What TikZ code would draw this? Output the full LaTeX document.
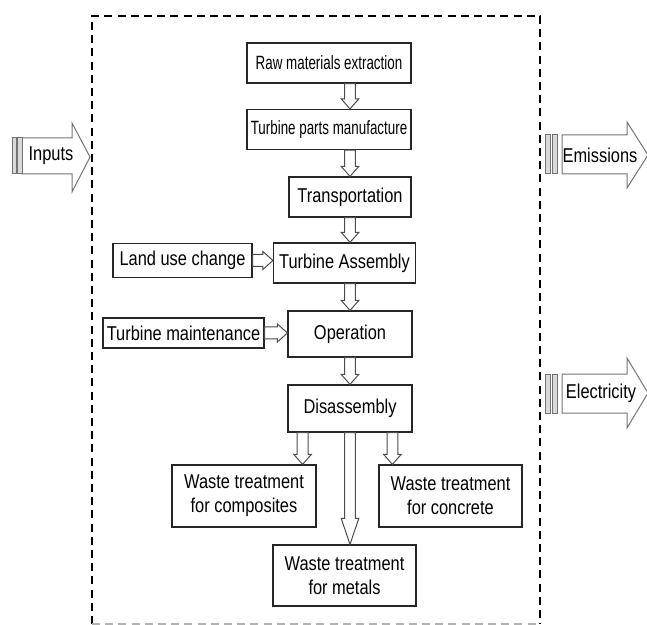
\documentclass[tikz,border=0pt]{standalone}
\usepackage{fontspec}
\usepackage{graphicx}
\setmainfont{Liberation Sans}[FakeStretch=0.82]
\usetikzlibrary{calc}
\newcommand{\squeezed}[1]{\scalebox{0.85}[1]{#1}}

\begin{document}
\begin{tikzpicture}[
			x=0.5pt, y=-0.5pt
			,every node/.append style={font=\fontsize{10}{12}\selectfont, align=center, inner sep=0pt}
			,stage/.style={draw=black!85, line width=0.6pt}
			,narrowtext/.style={font=\fontsize{9.6}{11}\selectfont}
			,frame/.style={line width=1.2pt, dash pattern=on 4pt off 2.6pt}
			,flow/.style={draw=black!70, line width=0.5pt, line join=miter}
			,vflow/.style={flow, to path={let \p1=(\tikztostart), \p2=(\tikztotarget) in
				(\x1-2.7pt,\y1) -- (\x1-2.7pt,\y2+#1) -- (\x1-4.4pt,\y2+#1) -- (\x1,\y2)
				-- (\x1+4.4pt,\y2+#1) -- (\x1+2.7pt,\y2+#1) -- (\x1+2.7pt,\y1) -- cycle}}
			,vflow/.default=5pt
			,hflow/.style={flow, to path={let \p1=(\tikztostart), \p2=(\tikztotarget) in
				(\x1,\y1+3pt) -- (\x2-5pt,\y1+3pt) -- (\x2-5pt,\y1+4.5pt) -- (\x2,\y1)
				-- (\x2-5pt,\y1-4.5pt) -- (\x2-5pt,\y1-3pt) -- (\x1,\y1-3pt) -- cycle}}
			,big/.style={draw=black!55, line width=0.5pt, line join=miter}
			,bar/.style={draw=black!55, fill=black!15, line width=0.5pt}
		]
			\useasboundingbox (0,0) rectangle (647,625);

			% system boundary
			\draw[frame] (92,624) -- (92,16) -- (540,16) -- (540,624);
			\draw[frame, black!30, line width=0.6pt] (92,624) -- (540,624);

			\coordinate (spine) at (350,0);

			\node [stage, narrowtext, minimum width=82pt, minimum height=20pt] (raw) at (329,63) {\squeezed{Raw materials extraction}};
			\node [stage, narrowtext, minimum width=82pt, minimum height=20pt] (parts) at (329,129.5) {\squeezed{Turbine parts manufacture}};
			\node [stage, minimum width=61pt, minimum height=20pt] (transport) at (350,197) {Transportation};
			\node [stage, minimum width=71pt, minimum height=20pt] (assembly) at (344.5,263) {Turbine Assembly};
			\node [stage, minimum width=69.5pt, minimum height=17pt] (landuse) at (182.5,260.5) {Land use change};
			\node [stage, minimum width=62pt, minimum height=23pt] (operation) at (350,334) {Operation};
			\node [stage, minimum width=80.5pt, minimum height=15pt] (maintenance) at (183.5,333) {Turbine maintenance};
			\node [stage, minimum width=62pt, minimum height=23.5pt] (disassembly) at (350,408.5) {Disassembly};
			\node [stage, minimum width=72pt, minimum height=31pt] (composites) at (244,496) {Waste treatment\\for composites};
			\node [stage, minimum width=71.5pt, minimum height=31pt] (concrete) at (450.5,496) {Waste treatment\\for concrete};
			\node [stage, minimum width=71.5pt, minimum height=30.5pt] (metals) at (344.5,575.5) {Waste treatment\\for metals};

			\draw[vflow] (raw.south -| spine) to (parts.north -| spine);
			\draw[vflow] (parts.south -| spine) to (transport.north -| spine);
			\draw[vflow] (transport.south -| spine) to (assembly.north -| spine);
			\draw[vflow] (assembly.south -| spine) to (operation.north -| spine);
			\draw[vflow] (operation.south -| spine) to (disassembly.north -| spine);
			\draw[hflow] (landuse.east) to (landuse.east -| assembly.west);
			\draw[hflow] (maintenance.east) to (maintenance.east -| operation.west);
			\draw[vflow] (disassembly.south -| composites.east) ++(-14,0) coordinate (c1) (c1) to (c1 |- composites.north);
			\draw[vflow] (disassembly.south -| concrete.west) ++(14,0) coordinate (c2) (c2) to (c2 |- concrete.north);
			\draw[vflow=13pt] (disassembly.south -| spine) to (metals.north -| spine);

			% inputs and outputs
			\draw[big] (22,138) -- (72,138) -- (72,123) -- (90,157) -- (72,192) -- (72,174) -- (22,174) -- cycle;
			\draw[bar] (12,138) rectangle (16.5,174) (17.5,138) rectangle (22,174);
			\node (inputs) at (51,156) {Inputs};

			\draw[big] (562,135) -- (627,135) -- (627,122) -- (648,155) -- (627,188) -- (627,174) -- (562,174) -- cycle;
			\draw[bar] (545,135) rectangle (550,174) (552,135) rectangle (557,174);
			\node (emissions) at (600,155) {Emissions};

			\draw[big] (562,374) -- (627,374) -- (627,358) -- (648,393) -- (627,428) -- (627,413) -- (562,413) -- cycle;
			\draw[bar] (545,374) rectangle (550,413) (552,374) rectangle (557,413);
			\node (electricity) at (601,393) {Electricity};
		\end{tikzpicture}
\end{document}
